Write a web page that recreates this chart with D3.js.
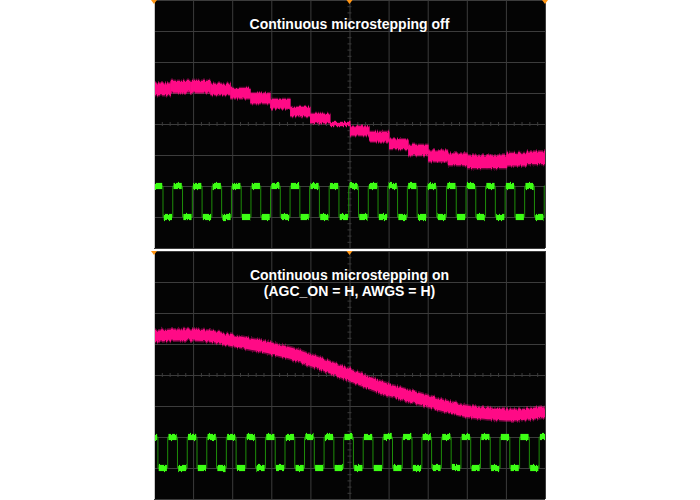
<!DOCTYPE html>
<html>
<head>
<meta charset="utf-8">
<script src="https://cdn.jsdelivr.net/npm/d3@7"></script>
<style>
  body { margin: 0; background: #fff; }
  text { font-family: "Liberation Sans", Arial, sans-serif; }
</style>
</head>
<body>
<svg id="chart" width="700" height="500"></svg>
<script>
// time in divisions (10 across), amplitude in divisions (8 tall, 0 = centre line)
const titleOff = ["Continuous microstepping off"];
const titleOn = ["Continuous microstepping on", "(AGC_ON = H, AWGS = H)"];

// microstepping off: coil current holds a level from each start time to the next
const offStepStart = [0, 0.42, 0.93, 1.44, 1.95, 2.46, 2.97, 3.48, 3.99, 4.50, 5.01, 5.50, 6.01, 6.50, 7.01, 7.51, 8.01, 8.51, 9.02, 9.53];
const offStepLevel = [1.12, 1.20, 1.20, 1.12, 0.99, 0.83, 0.65, 0.40, 0.18, 0.00, -0.22, -0.41, -0.65, -0.84, -1.03, -1.14, -1.22, -1.22, -1.14, -1.09];
const offStepNoise = [0.38, 0.38, 0.38, 0.36, 0.34, 0.33, 0.32, 0.30, 0.30, 0.13, 0.30, 0.32, 0.32, 0.34, 0.36, 0.38, 0.40, 0.40, 0.40, 0.40];
const offClockRise = [-0.02, 0.48, 0.98, 1.48, 1.98, 2.48, 2.98, 3.48, 3.98, 4.48, 4.98, 5.48, 5.98, 6.48, 6.98, 7.48, 7.98, 8.48, 8.98, 9.48, 9.98];

// microstepping on: smooth current
const onTime = [0, 0.5, 1, 1.5, 2, 2.5, 3, 3.5, 4, 4.5, 5, 5.5, 6, 6.5, 7, 7.5, 8, 8.5, 9, 9.5, 10];
const onLevel = [1.24, 1.29, 1.29, 1.24, 1.11, 0.99, 0.86, 0.70, 0.48, 0.25, 0.00, -0.25, -0.48, -0.66, -0.84, -1.02, -1.17, -1.24, -1.29, -1.27, -1.18];
const onClockRise = [-0.15, 0.35, 0.85, 1.35, 1.85, 2.35, 2.85, 3.35, 3.85, 4.35, 4.85, 5.35, 5.85, 6.35, 6.85, 7.35, 7.85, 8.35, 8.85, 9.35, 9.85];

const clockHigh = -2, clockLow = -3, clockHalf = 0.25;

const pink = "#ff0a86", green = "#3dff14", greenEdge = "#1e8f0a", gridColor = "#3c3c3c";
const panelH = 248;

const svg = d3.select("#chart");
const x = d3.scaleLinear().domain([0, 10]).range([154, 545]);
const y = d3.scaleLinear().domain([-4, 4]).range([panelH, 0]);

// vertical-only noise for the traces
const defs = svg.append("defs");
function jitter(id, amount) {
  const f = defs.append("filter").attr("id", id)
    .attr("x", "-2%").attr("y", "-30%").attr("width", "104%").attr("height", "160%")
    .attr("color-interpolation-filters", "sRGB");
  f.append("feTurbulence").attr("type", "fractalNoise").attr("baseFrequency", "0.8 0.03")
    .attr("numOctaves", 2).attr("seed", 4).attr("result", "n");
  f.append("feColorMatrix").attr("in", "n").attr("type", "matrix")
    .attr("values", "0 0 0 0 0.5  0 1 0 0 0  0 0 0 0 0  0 0 0 0 1").attr("result", "m");
  f.append("feDisplacementMap").attr("in", "SourceGraphic").attr("in2", "m")
    .attr("scale", amount).attr("xChannelSelector", "R").attr("yChannelSelector", "G");
}
jitter("jitter-pink", 5);
jitter("jitter-green", 3);

const panels = [
  { top: 0, title: titleOff, clock: offClockRise, id: "off" },
  { top: 251, title: titleOn, clock: onClockRise, id: "on" }
];

panels.forEach(p => {
  const g = svg.append("g").attr("transform", `translate(0,${p.top})`);

  defs.append("clipPath").attr("id", "clip-" + p.id)
    .append("rect").attr("x", x(0)).attr("y", 0).attr("width", x(10) - x(0)).attr("height", panelH);

  g.append("rect")
    .attr("x", x(0)).attr("y", 0)
    .attr("width", x(10) - x(0)).attr("height", panelH)
    .attr("fill", "#040404");

  // grid
  const vgrid = g.append("g")
    .call(d3.axisBottom(x).tickValues(d3.range(0, 11)).tickSize(panelH).tickFormat(""));
  const hgrid = g.append("g").attr("transform", `translate(${x(0)},0)`)
    .call(d3.axisRight(y).tickValues(d3.range(-4, 5)).tickSize(x(10) - x(0)).tickFormat(""));
  const hminor = g.append("g").attr("transform", `translate(0,${y(0) - 2})`)
    .call(d3.axisBottom(x).tickValues(d3.range(0, 10.01, 0.2)).tickSize(4).tickFormat(""));
  const vminor = g.append("g").attr("transform", `translate(${x(5) - 2},0)`)
    .call(d3.axisRight(y).tickValues(d3.range(-4, 4.01, 0.2)).tickSize(4).tickFormat(""));
  [vgrid, hgrid, hminor, vminor].forEach(a => {
    a.select(".domain").remove();
    a.selectAll("line").attr("stroke", gridColor);
  });

  const plot = g.append("g").attr("clip-path", `url(#clip-${p.id})`);

  // pink coil current
  const trace = plot.append("g").attr("filter", "url(#jitter-pink)");
  if (p.id === "off") {
    const steps = offStepStart.map((s, i) => ({
      s, e: i + 1 < offStepStart.length ? offStepStart[i + 1] : 10,
      v: offStepLevel[i], n: offStepNoise[i]
    }));
    trace.selectAll("rect.halo").data(steps).join("rect")
      .attr("class", "halo")
      .attr("x", d => x(d.s)).attr("width", d => x(d.e) - x(d.s) + 0.5)
      .attr("y", d => y(d.v + d.n * 0.62)).attr("height", d => y(d.v - d.n * 0.62) - y(d.v + d.n * 0.62))
      .attr("fill", pink).attr("opacity", 0.4);
    trace.selectAll("rect.core").data(steps).join("rect")
      .attr("class", "core")
      .attr("x", d => x(d.s)).attr("width", d => x(d.e) - x(d.s) + 0.5)
      .attr("y", d => y(d.v + d.n / 2)).attr("height", d => y(d.v - d.n / 2) - y(d.v + d.n / 2))
      .attr("fill", pink);
  } else {
    const line = d3.line().x(d => x(d[0])).y(d => y(d[1])).curve(d3.curveCatmullRom);
    const pts = onTime.map((t, i) => [t, onLevel[i]]);
    trace.append("path").attr("d", line(pts)).attr("fill", "none")
      .attr("stroke", pink).attr("stroke-width", 14).attr("opacity", 0.4);
    trace.append("path").attr("d", line(pts)).attr("fill", "none")
      .attr("stroke", pink).attr("stroke-width", 11);
  }

  // green step clock
  const edges = [];
  p.clock.forEach(r => { edges.push([r, clockHigh]); edges.push([r + clockHalf, clockLow]); });
  edges.push([p.clock[p.clock.length - 1] + 2 * clockHalf, clockHigh]);
  plot.append("path")
    .attr("d", d3.line().x(d => x(d[0])).y(d => y(d[1])).curve(d3.curveStepAfter)(edges))
    .attr("fill", "none").attr("stroke", greenEdge).attr("stroke-width", 1);

  const flats = [];
  p.clock.forEach(r => {
    flats.push({ s: r + 0.02, e: r + clockHalf - 0.02, v: clockHigh });
    flats.push({ s: r + clockHalf + 0.02, e: r + 2 * clockHalf - 0.02, v: clockLow });
  });
  plot.append("g").attr("filter", "url(#jitter-green)")
    .selectAll("rect").data(flats).join("rect")
    .attr("x", d => x(d.s)).attr("width", d => x(d.e) - x(d.s))
    .attr("y", d => y(d.v + 0.1)).attr("height", y(-0.1) - y(0.1))
    .attr("fill", green);

  // left frame edge and trigger markers
  g.append("line").attr("x1", x(0) + 0.5).attr("x2", x(0) + 0.5).attr("y1", 0).attr("y2", panelH)
    .attr("stroke", "#c8c8c8");
  const markers = p.id === "off" ? [0, 5, 10] : [0, 5];
  g.selectAll("path.marker").data(markers).join("path")
    .attr("class", "marker")
    .attr("d", d => `M${x(d) - 3},0 L${x(d) + 3},0 L${x(d)},4 Z`)
    .attr("fill", "#ff9514");

  // title
  g.append("text")
    .attr("x", x(5)).attr("y", 29)
    .attr("text-anchor", "middle").attr("fill", "#fff")
    .attr("font-size", 14).attr("font-weight", "bold")
    .selectAll("tspan").data(p.title).join("tspan")
    .attr("x", x(5)).attr("dy", (d, i) => i === 0 ? 0 : 15.5)
    .text(d => d);
});
</script>
</body>
</html>
